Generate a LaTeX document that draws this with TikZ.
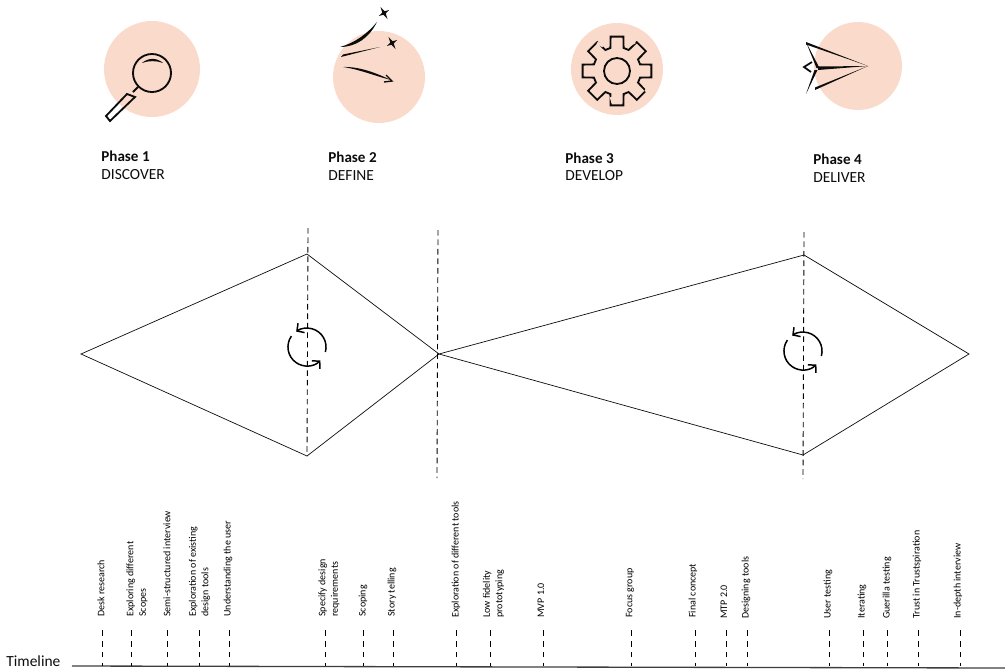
\documentclass[tikz,border=0pt]{standalone}
\usepackage{fontspec}
\setmainfont{Carlito}
\usetikzlibrary{arrows.meta, positioning}
\definecolor{phasepeach}{RGB}{250, 219, 203}
\definecolor{inkblack}{RGB}{12, 12, 12}
\newcommand{\sparkle}[2]{\fill[inkblack, shift={(#1,#2)}, rotate=30] (0,-7) -- (1.3,-1.3) -- (6,0) -- (1.3,1.3) -- (0,7) -- (-1.3,1.3) -- (-6,0) -- (-1.3,-1.3) -- cycle;}
\begin{document}
\begin{tikzpicture}[
        x=0.02cm, y=-0.02cm,
        phasetitle/.style={anchor=west, inner sep=0pt, font=\fontsize{8.6}{10}\selectfont\bfseries, text=inkblack},
        phasename/.style={anchor=west, inner sep=0pt, font=\fontsize{8.8}{10}\selectfont, text=inkblack},
        task/.style={anchor=west, rotate=90, inner sep=0pt, align=left, font=\fontsize{5.7}{7.1}\selectfont, text=black},
        outline/.style={draw=inkblack, line width=0.4pt},
        guide/.style={draw=black, line width=0.5pt, dash pattern=on 3.2pt off 2.2pt},
        tick/.style={draw=black, line width=0.5pt, dash pattern=on 3.2pt off 3pt},
        cycle/.style={draw=black, line width=0.85pt, -{Straight Barb[length=3pt, width=6.5pt]}},
        gap/.style={draw=phasepeach, line width=1.6pt}
    ]
        \useasboundingbox (0,0) rectangle (1005,670);

        % phase discs
        \fill[phasepeach] (152,69) circle [radius=48];
        \fill[phasepeach] (379,77) circle [radius=46];
        \fill[phasepeach] (617,69) circle [radius=46];
        \fill[phasepeach] (858,66) circle [radius=44];

        % magnifier
        \draw[inkblack, line width=1.05pt] (152,73) circle [radius=19];
        \fill[inkblack] (142,63) .. controls (148,57.5) and (157,57.5) .. (163,63) .. controls (157,60.5) and (148,60.5) .. cycle;
        \draw[inkblack, line width=1.05pt] (127,94) -- (135,97) -- (110,121) -- (106,116) -- cycle;
        \draw[inkblack, line width=1.05pt] (133,92) -- (138,87);

        % compass strokes
        \fill[inkblack] (340,47) .. controls (355,43) and (368,33) .. (377,22) .. controls (369,38) and (356,47) .. cycle;
        \fill[inkblack] (341,57) -- (380,47) -- (343,54.5) -- cycle;
        \fill[inkblack] (343,67) .. controls (360,66.5) and (376,73) .. (391,80) .. controls (375,76) and (360,69.5) .. cycle;
        \draw[inkblack, line width=0.8pt] (386,75) -- (392,81) -- (384,82);
        \sparkle{384}{13}
        \sparkle{392}{43}

        % gear
        \begin{scope}[shift={(617,71)}]
            \draw[inkblack, line width=1.05pt] (-16:24) foreach \a in {0,45,...,315} {
                -- (\a-16:24) -- (\a-10.5:35) -- (\a+10.5:35) -- (\a+16:24)
            } -- cycle;
            \draw[inkblack, line width=1.05pt] (0,0) circle [radius=13];
        \end{scope}
        \draw[gap] (597,43) -- (603,46);
        \draw[gap] (629,45) -- (635,42);
        \draw[gap] (645,90) -- (651,92);
        \draw[gap] (611,97) -- (613,103);

        % paper plane
        \fill[inkblack] (806,42) -- (868,66) -- (806,44.5) -- cycle;
        \fill[inkblack] (806,42) -- (819.5,68) -- (816.5,68) -- cycle;
        \fill[inkblack] (818,66.5) -- (868,66) -- (818,70) -- cycle;
        \fill[inkblack] (815,90) -- (868,66) -- (815,87.5) -- cycle;
        \fill[inkblack] (806,94) -- (817.5,70) -- (814.5,70) -- cycle;
        \draw[inkblack, line width=1pt] (812,62) -- (804,67) -- (811,72);

        % phase labels
        \node[phasetitle] (title1) at (101,156) {Phase 1};
        \node[phasename] (name1) at (101,175) {DISCOVER};
        \node[phasetitle] (title2) at (328,157) {Phase 2};
        \node[phasename] (name2) at (328,176) {DEFINE};
        \node[phasetitle] (title3) at (565,158) {Phase 3};
        \node[phasename] (name3) at (565,176) {DEVELOP};
        \node[phasetitle] (title4) at (813,159) {Phase 4};
        \node[phasename] (name4) at (813,178) {DELIVER};

        % double diamond
        \coordinate (start) at (81,354);
        \coordinate (top1) at (307,254);
        \coordinate (bot1) at (307,456);
        \coordinate (mid) at (439,354);
        \coordinate (top2) at (804,255);
        \coordinate (bot2) at (803,455);
        \coordinate (end) at (969,354);

        \draw[outline] (start) -- (top1) -- (mid) -- (bot1) -- cycle;
        \draw[outline] (mid) -- (top2) -- (end) -- (bot2) -- cycle;

        \coordinate (guide1a) at (308,228);
        \coordinate (guide2a) at (438,230);
        \coordinate (guide2b) at (437,478);
        \coordinate (guide3a) at (804,232);
        \coordinate (guide3b) at (803,479);
        \draw[guide] (guide1a) -- (bot1);
        \draw[guide] (guide2a) -- (guide2b);
        \draw[guide] (guide3a) -- (guide3b);

        % iteration arrows
        \draw[cycle] (325.4,352) arc [start angle=15, end angle=-125, radius=19];
        \draw[cycle] (291.4,336.1) arc [start angle=-145, end angle=-315, radius=19];
        \draw[cycle] (821.4,356) arc [start angle=15, end angle=-125, radius=19];
        \draw[cycle] (787.4,340.1) arc [start angle=-145, end angle=-315, radius=19];

        % timeline
        \node[anchor=west, inner sep=0pt, font=\fontsize{8.8}{10}\selectfont, text=inkblack] (timeline) at (6,661) {Timeline};
        \coordinate (axisa) at (72,666);
        \coordinate (axisb) at (1005,668);
        \draw[inkblack!80, line width=0.75pt] (axisa) -- (axisb);

        \foreach \x in {102,131,167,199,229,325,363,393,456,490,543,631,695,726,747,829,863,887,918,960} {
            \draw[tick] (\x,630) -- (\x,666);
        }

        \node[task] (desk) at (101,617) {Desk research};
        \node[task] (scopes) at (137,617) {Exploring different\\Scopes};
        \node[task] (semi) at (167,617) {Semi-structured interview};
        \node[task] (existing) at (199.5,617) {Exploration of existing\\design tools};
        \node[task] (user) at (228,617) {Understanding the user};
        \node[task] (specify) at (329,617) {Specify design\\requirements};
        \node[task] (scoping) at (363,617) {Scoping};
        \node[task] (story) at (392,617) {Story telling};
        \node[task] (different) at (456,618) {Exploration of different tools};
        \node[task] (lowfi) at (493.5,618) {Low fidelity\\prototyping};
        \node[task] (mvp) at (541,618) {MVP 1.0};
        \node[task] (focus) at (630,618) {Focus group};
        \node[task] (concept) at (693,618) {Final concept};
        \node[task] (mtp) at (724,619) {MTP 2.0};
        \node[task] (designing) at (746,619) {Designing tools};
        \node[task] (testing) at (828,619) {User testing};
        \node[task] (iterating) at (862,619) {Iterating};
        \node[task] (guerilla) at (887,619) {Guerilla testing};
        \node[task] (trust) at (917,619) {Trust in Trustspiration};
        \node[task] (depth) at (958,619) {In-depth interview};
    \end{tikzpicture}
\end{document}
